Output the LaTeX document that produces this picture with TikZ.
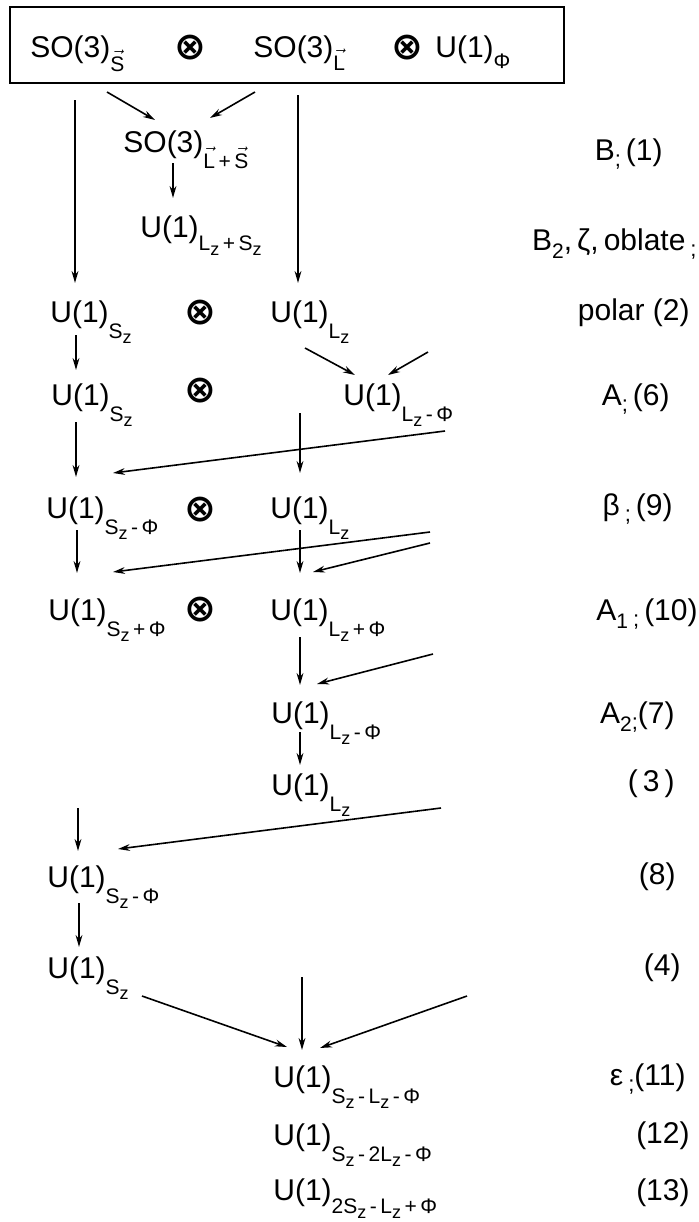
\documentclass[tikz,border=0pt]{standalone}
\usepackage{fontspec}
\setmainfont{Liberation Sans}
\newfontfamily\symfont{DejaVu Sans}
\usetikzlibrary{arrows.meta}
\newcommand\mainsize{\fontsize{15}{18}\selectfont}
\newcommand\subsz{\fontsize{10.5}{12}\selectfont}
\newcommand\lsub[2][8pt]{\raisebox{-#1}{\subsz #2}}
\newcommand\zz{\raisebox{-2.5pt}{\fontsize{9}{10}\selectfont z}}
\newcommand\vecS{\ensuremath{\vec{\hbox{S}}}}
\newcommand\vecL{\ensuremath{\vec{\hbox{L}}}}
\newcommand\semi{\raisebox{-3pt}{\fontsize{11}{12}\selectfont ;}}
\begin{document}
\begin{tikzpicture}[x=0.5pt,y=-0.5pt,
  lab/.style={inner sep=0, anchor=base west, font=\mainsize},
  rlab/.style={inner sep=0, anchor=base east, font=\mainsize},
  ot/.style={inner sep=0, font=\fontsize{19}{20}\symfont\bfseries},
  arr/.style={-{Stealth[length=6pt,width=3.4pt]}, line width=0.8pt},
]
\useasboundingbox (0,0) rectangle (698,1222);
\fill[white] (0,0) rectangle (698,1222);

% top box
\node[draw, line width=1.1pt, minimum width=277pt, minimum height=38pt, inner sep=0] (box) at (287,45) {};
\node[lab] (so3s) at (30,57) {SO(3)\lsub[7pt]{\vecS}};
\node[ot] (t1) at (190,48) {⊗};
\node[lab] (so3l) at (253,57) {SO(3)\lsub[6.5pt]{\vecL}};
\node[ot] (t2) at (407,48) {⊗};
\node[lab] (u1phi) at (435,57) {U(1)\lsub[5.5pt]{Φ}};

% column nodes
\node[lab] (so3ls) at (123,152) {SO(3)\lsub[8pt]{\vecL\,+\,\vecS}};
\node[lab] (u1lzsz) at (140,237) {U(1)\lsub[6.5pt]{L\zz\,+\,S\zz}};

\node[lab] (r2a) at (50,322) {U(1)\lsub{S\zz}};
\node[ot]  (t3) at (200,313) {⊗};
\node[lab] (r2b) at (270,322) {U(1)\lsub{L\zz}};

\node[lab] (r3a) at (51,405) {U(1)\lsub{S\zz}};
\node[ot]  (t4) at (200,391) {⊗};
\node[lab] (r3b) at (343,405) {U(1)\lsub{L\zz\,-\,Φ}};

\node[lab] (r4a) at (46,518) {U(1)\lsub{S\zz\,-\,Φ}};
\node[ot]  (t5) at (200,510) {⊗};
\node[lab] (r4b) at (270,518) {U(1)\lsub{L\zz}};

\node[lab] (r5a) at (48,620) {U(1)\lsub{S\zz\,+\,Φ}};
\node[ot]  (t6) at (200,610) {⊗};
\node[lab] (r5b) at (270,620) {U(1)\lsub{L\zz\,+\,Φ}};

\node[lab] (r6) at (271,723) {U(1)\lsub{L\zz\,-\,Φ}};
\node[lab] (r7) at (271,795) {U(1)\lsub{L\zz}};
\node[lab] (r8) at (47,887) {U(1)\lsub{S\zz\,-\,Φ}};
\node[lab] (r9) at (47,978) {U(1)\lsub{S\zz}};

\node[lab] (r10) at (273,1087) {U(1)\lsub{S\zz\,-\,L\zz\,-\,Φ}};
\node[lab] (r11) at (273,1145) {U(1)\lsub{S\zz\,-\,2L\zz\,-\,Φ}};
\node[lab] (r12) at (273,1200) {U(1)\lsub[6.5pt]{2S\zz\,-\,L\zz\,+\,Φ}};

% right-hand labels
\node[rlab] (l1) at (663,160) {B\semi\,(1)};
\node[rlab] (l2) at (697,250) {B\lsub[4pt]{2},\,ζ,\,oblate\,\semi};
\node[rlab] (l3) at (690,320) {polar (2)};
\node[rlab] (l4) at (670,405) {A\semi\,(6)};
\node[rlab] (l5) at (673,515) {β\,\semi\,(9)};
\node[rlab] (l6) at (698,620) {A\lsub[4pt]{1}\,\semi\,(10)};
\node[rlab] (l7) at (675,723) {A\lsub[4pt]{2}\semi(7)};
\node[rlab] (l8) at (675,791) {(\,3\,)};
\node[rlab] (l9) at (676,884) {(8)};
\node[rlab] (l10) at (681,975) {(4)};
\node[rlab] (l11) at (686,1085) {ε\,\semi(11)};
\node[rlab] (l12) at (690,1143) {(12)};
\node[rlab] (l13) at (690,1200) {(13)};

% connector end points
\coordinate (a1s) at (107,92);  \coordinate (a1e) at (155,120);
\coordinate (a2s) at (255,92);  \coordinate (a2e) at (210,118);
\coordinate (a3s) at (75,100);  \coordinate (a3e) at (75,283);
\coordinate (a4s) at (298,95);  \coordinate (a4e) at (298,283);
\coordinate (a5s) at (173,163); \coordinate (a5e) at (173,198);
\coordinate (a6s) at (76,335);  \coordinate (a6e) at (76,370);
\coordinate (a7s) at (305,348); \coordinate (a7e) at (355,375);
\coordinate (a8s) at (428,352); \coordinate (a8e) at (388,375);
\coordinate (a9s) at (76,422);  \coordinate (a9e) at (76,477);
\coordinate (a10s) at (300,413); \coordinate (a10e) at (300,473);
\coordinate (a11s) at (445,431); \coordinate (a11e) at (113,473);
\coordinate (a12s) at (77,530);  \coordinate (a12e) at (77,573);
\coordinate (a13s) at (300,530); \coordinate (a13e) at (300,573);
\coordinate (a14s) at (430,532); \coordinate (a14e) at (113,572);
\coordinate (a15s) at (430,543); \coordinate (a15e) at (313,572);
\coordinate (a16s) at (300,637); \coordinate (a16e) at (300,685);
\coordinate (a17s) at (433,654); \coordinate (a17e) at (317,684);
\coordinate (a18s) at (300,732); \coordinate (a18e) at (300,765);
\coordinate (a19s) at (441,808); \coordinate (a19e) at (118,849);
\coordinate (a20s) at (78,808);  \coordinate (a20e) at (78,851);
\coordinate (a21s) at (79,903);  \coordinate (a21e) at (79,947);
\coordinate (a22s) at (142,996); \coordinate (a22e) at (287,1047);
\coordinate (a23s) at (302,977); \coordinate (a23e) at (302,1050);
\coordinate (a24s) at (467,996); \coordinate (a24e) at (320,1048);

\foreach \i in {1,...,24} \draw[arr] (a\i s) -- (a\i e);
\end{tikzpicture}
\end{document}
